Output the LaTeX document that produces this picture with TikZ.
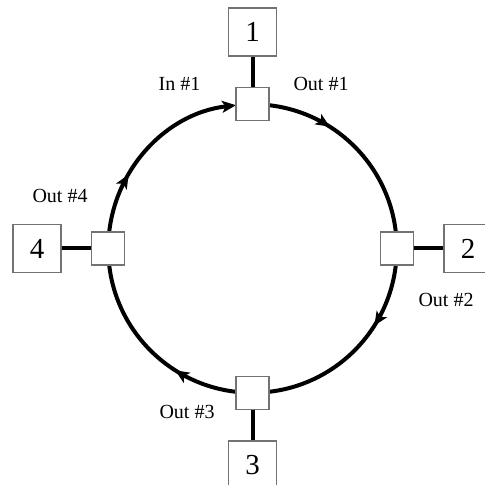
\documentclass[tikz,border=0pt]{standalone}
\usepackage{fontspec}
\setmainfont{Liberation Serif}
\usetikzlibrary{arrows.meta,decorations.markings,backgrounds}
\definecolor{boxgray}{gray}{0.45}
\begin{document}
\begin{tikzpicture}[x=1pt,y=1pt,
  bigbox/.style={draw=boxgray, line width=1.1pt, fill=white, minimum width=48pt, minimum height=48pt, inner sep=0pt, font=\fontsize{29}{30}\selectfont},
  port/.style={draw=boxgray, line width=1.1pt, fill=white, minimum size=33pt, inner sep=0pt},
  conn/.style={line width=4pt},
  ring/.style={line width=4pt},
  lbl/.style={font=\fontsize{20}{24}\selectfont, inner sep=0pt},
  tip/.tip={Stealth[length=14pt,width=12pt,inset=3.5pt]},
  midarrow/.style={postaction={decorate}, decoration={markings, mark=at position #1 with {\arrow{tip}}}}
]
\useasboundingbox (0,0) rectangle (485,485);
\clip (0,0) rectangle (485,485);

\node[port] (p1) at (252.5,380.75) {};
\node[port] (p2) at (396.75,236.5) {};
\node[port] (p3) at (252.5,92.25) {};
\node[port] (p4) at (108.25,236.5) {};

\node[bigbox] (b1) at (252.5,453) {1};
\node[bigbox] (b2) at (468,236.5) {2};
\node[bigbox] (b3) at (252.5,20) {3};
\node[bigbox] (b4) at (37,236.5) {4};

\begin{scope}[on background layer]
  \draw[ring, midarrow=0.36] (p1.center) arc[start angle=90, end angle=0, radius=144.25pt];
  \draw[ring, midarrow=0.36] (p2.center) arc[start angle=0, end angle=-90, radius=144.25pt];
  \draw[ring, midarrow=0.36] (p3.center) arc[start angle=270, end angle=180, radius=144.25pt];
  \draw[ring, midarrow=0.37, -tip] (p4.center) arc[start angle=180, end angle=96.57, radius=144.25pt];
\end{scope}

\draw[conn] (b1) -- (p1);
\draw[conn] (b2) -- (p2);
\draw[conn] (b3) -- (p3);
\draw[conn] (b4) -- (p4);

\node[lbl] (l1) at (179.5,401) {In \#1};
\node[lbl] (l2) at (321,401) {Out \#1};
\node[lbl] (l3) at (446,185.5) {Out \#2};
\node[lbl] (l4) at (187,73) {Out \#3};
\node[lbl] (l5) at (60,289) {Out \#4};
\end{tikzpicture}
\end{document}
